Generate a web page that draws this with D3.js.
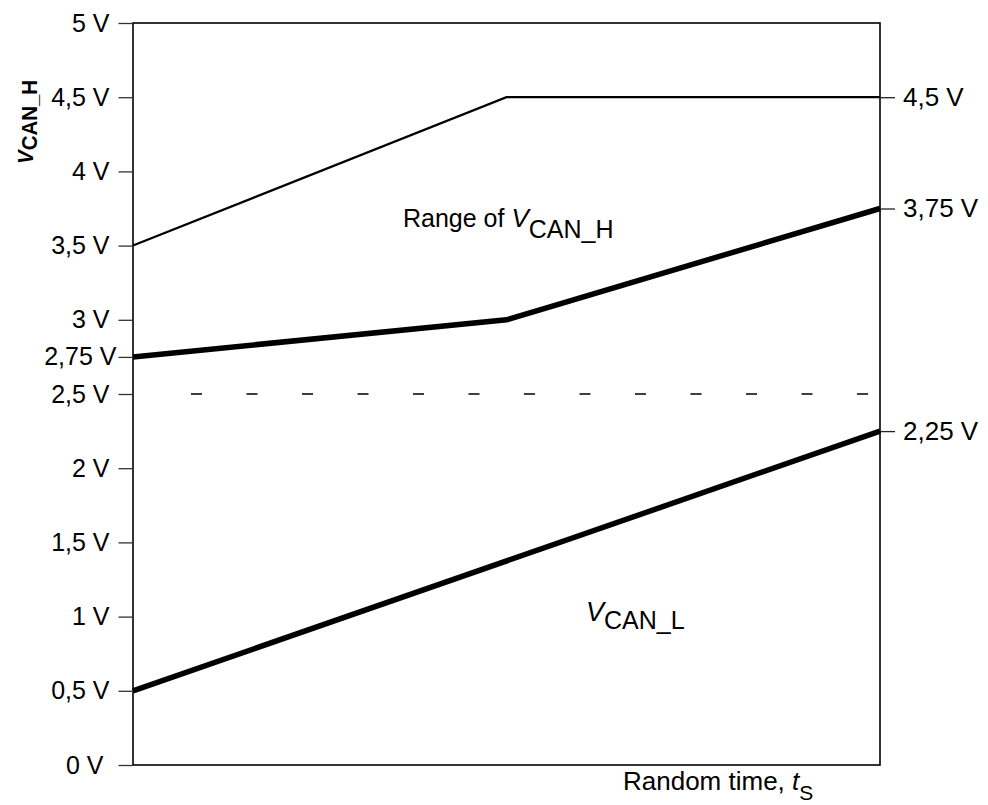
<!DOCTYPE html>
<html>
<head>
<meta charset="utf-8">
<script src="https://cdn.jsdelivr.net/npm/d3@7/dist/d3.min.js"></script>
<style>
  html, body { margin: 0; padding: 0; background: #fff; }
  svg text { font-family: "Liberation Sans", Arial, sans-serif; fill: #000; }
</style>
</head>
<body>
<svg id="chart" width="988" height="805"></svg>
<script>
// ---- data ----
const times = [0, 0.5, 1];
const upperLimit = [3.5, 4.5, 4.5];      // upper bound of V_CAN_H range (thin)
const canHMin = [2.75, 3.0, 3.75];       // lower bound of V_CAN_H range (thick)
const canLTimes = [0, 1];
const canL = [0.5, 2.25];                // V_CAN_L (thick)
const recessiveLevel = 2.5;              // dashed reference level
const leftTicks = [0, 0.5, 1, 1.5, 2, 2.5, 2.75, 3, 3.5, 4, 4.5, 5];
const leftTickLabels = ["0 V", "0,5 V", "1 V", "1,5 V", "2 V", "2,5 V", "2,75 V", "3 V", "3,5 V", "4 V", "4,5 V", "5 V"];
const rightTicks = [4.5, 3.75, 2.25];
const rightTickLabels = ["4,5 V", "3,75 V", "2,25 V"];

// ---- layout ----
const svg = d3.select("#chart");
const X0 = 133, X1 = 880, Y0 = 765, Y1 = 23;
const x = d3.scaleLinear().domain([0, 1]).range([X0, X1]);
const y = d3.scaleLinear().domain([0, 5]).range([Y0, Y1]);
const FS = 25;

// frame
svg.append("rect")
  .attr("x", X0).attr("y", Y1).attr("width", X1 - X0).attr("height", Y0 - Y1)
  .attr("fill", "none").attr("stroke", "#000").attr("stroke-width", 1.6);

// left axis
const leftAxis = d3.axisLeft(y)
  .tickValues(leftTicks)
  .tickSize(14).tickPadding(9)
  .tickFormat((d) => leftTickLabels[leftTicks.indexOf(d)]);
const gl = svg.append("g").attr("transform", `translate(${X0 - 0.5},0)`).call(leftAxis);
gl.select(".domain").remove();
gl.selectAll(".tick line").attr("stroke", "#333").attr("stroke-width", 1.3);
gl.selectAll(".tick text")
  .attr("font-size", FS).attr("font-family", "Liberation Sans, Arial, sans-serif")
  .attr("fill", "#000")
  .attr("dx", (d) => d === 2.75 ? 7 : (d === 0 ? -6 : 0));

// right axis
const rightAxis = d3.axisRight(y)
  .tickValues(rightTicks)
  .tickSize(15).tickPadding(8)
  .tickFormat((d) => rightTickLabels[rightTicks.indexOf(d)]);
const gr = svg.append("g").attr("transform", `translate(${X1},0)`).call(rightAxis);
gr.select(".domain").remove();
gr.selectAll(".tick line").attr("stroke", "#222").attr("stroke-width", 1.3);
gr.selectAll(".tick text")
  .attr("font-size", 26).attr("font-family", "Liberation Sans, Arial, sans-serif")
  .attr("fill", "#000");

// dashed recessive level
svg.append("line")
  .attr("x1", 191).attr("x2", X1)
  .attr("y1", y(recessiveLevel)).attr("y2", y(recessiveLevel))
  .attr("stroke", "#000").attr("stroke-width", 1.4)
  .attr("stroke-dasharray", "11 44.5");

const line = d3.line().x((d) => x(d[0])).y((d) => y(d[1]));

svg.append("path")
  .attr("d", line(times.map((t, i) => [t, upperLimit[i]])))
  .attr("fill", "none").attr("stroke", "#000").attr("stroke-width", 2.2);

svg.append("path")
  .attr("d", line(times.map((t, i) => [t, canHMin[i]])))
  .attr("fill", "none").attr("stroke", "#000").attr("stroke-width", 5.5);

svg.append("path")
  .attr("d", line(canLTimes.map((t, i) => [t, canL[i]])))
  .attr("fill", "none").attr("stroke", "#000").attr("stroke-width", 5.5);

// annotations
const t1 = svg.append("text").attr("x", 403).attr("y", 227).attr("font-size", 25);
t1.append("tspan").text("Range of ");
t1.append("tspan").attr("font-style", "italic").attr("font-size", 26).text("V");
t1.append("tspan").attr("dy", 11).text("CAN_H");

const t2 = svg.append("text").attr("x", 586).attr("y", 621).attr("font-size", 25);
t2.append("tspan").attr("font-style", "italic").attr("font-size", 27).text("V");
t2.append("tspan").attr("dy", 8).text("CAN_L");

const t3 = svg.append("text").attr("x", 623).attr("y", 790).attr("font-size", 26);
t3.append("tspan").text("Random time, ");
t3.append("tspan").attr("font-style", "italic").text("t");
t3.append("tspan").attr("dy", 10).attr("font-size", 21).text("S");

// rotated (overlapping) y-axis label
const yl = svg.append("text")
  .attr("transform", "translate(33,122) rotate(-90)")
  .attr("text-anchor", "middle")
  .attr("font-size", 22).attr("font-weight", "bold")
  .attr("textLength", 84).attr("lengthAdjust", "spacingAndGlyphs");
yl.append("tspan").attr("font-style", "italic").text("V");
yl.append("tspan").attr("dy", 4).text("CAN_H");
</script>
</body>
</html>
